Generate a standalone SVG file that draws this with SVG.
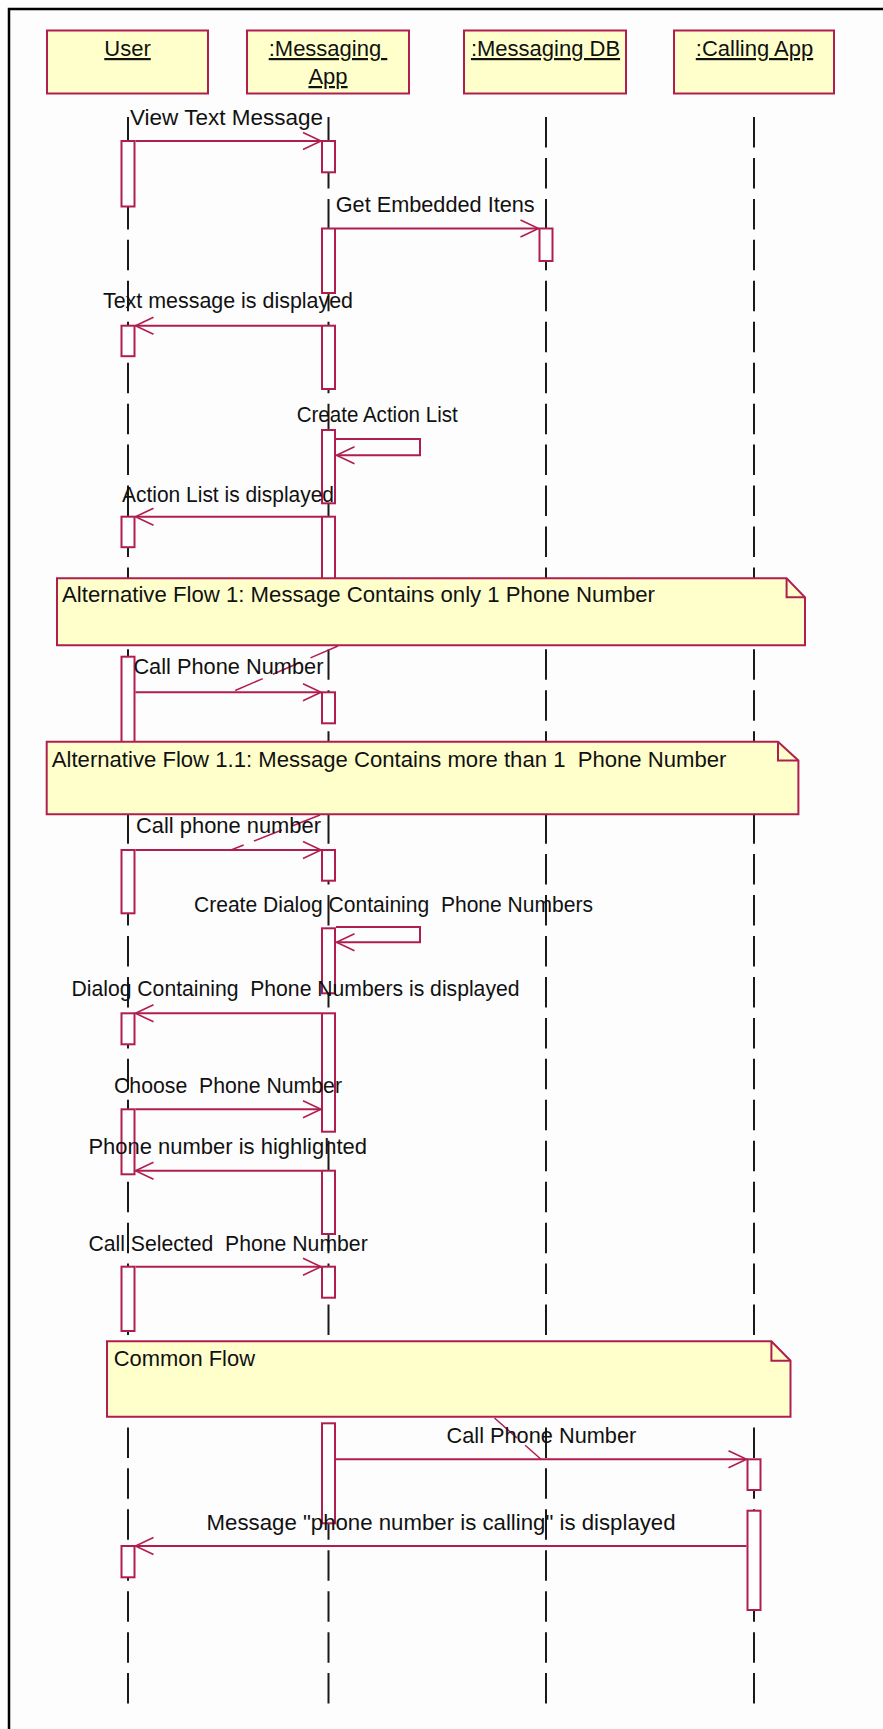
<svg xmlns="http://www.w3.org/2000/svg" width="883" height="1729" viewBox="0 0 883 1729">
<style>
text{font-family:"Liberation Sans",Arial,sans-serif;font-size:22px;fill:#111}
.hd{text-anchor:middle;text-decoration:underline}
.obj{fill:#ffffcc;stroke:#b01e4f;stroke-width:2}
.act{fill:#ffffff;stroke:#b01e4f;stroke-width:2}
.life{stroke:#1a1a1a;stroke-width:2;stroke-dasharray:30.5 10.45;fill:none}
.msg{stroke:#b01e4f;stroke-width:2;fill:none;marker-end:url(#ah)}
.anchor{stroke:#b01e4f;stroke-width:1.5;stroke-dasharray:30 11;fill:none}
.note{fill:#ffffcc;stroke:#b01e4f;stroke-width:2}
.fold{fill:none;stroke:#b01e4f;stroke-width:2}
</style>
<defs>
<marker id="ah" markerUnits="userSpaceOnUse" viewBox="-20 -10 22 20" refX="0" refY="0" markerWidth="22" markerHeight="20" orient="auto" overflow="visible">
<path d="M-18,-8.5 L0,0 L-18,8.5" fill="none" stroke="#b01e4f" stroke-width="1.6"/>
</marker>
</defs>
<rect x="0" y="0" width="883" height="1729" fill="#fdfdfd"/>
<rect x="9" y="9" width="900" height="1760" fill="none" stroke="#000" stroke-width="2.5"/>

<g id="lifelines">
<line class="life" x1="128" y1="117" x2="128" y2="1706"/>
<line class="life" x1="328.5" y1="117" x2="328.5" y2="1706"/>
<line class="life" x1="546" y1="117" x2="546" y2="1706"/>
<line class="life" x1="754" y1="117" x2="754" y2="1706"/>
</g>

<g id="node-user">
<rect class="obj" x="47" y="30.5" width="161" height="63"/>
<text class="hd" x="127.5" y="56">User</text>
</g>
<g id="node-messaging-app">
<rect class="obj" x="247" y="30.5" width="162" height="63"/>
<text class="hd" x="328" y="56">:Messaging&#160;</text>
<text class="hd" x="328" y="84">App</text>
</g>
<g id="node-messaging-db">
<rect class="obj" x="464" y="30.5" width="162" height="63"/>
<text class="hd" x="545.5" y="56">:Messaging DB</text>
</g>
<g id="node-calling-app">
<rect class="obj" x="674" y="30.5" width="160" height="63"/>
<text class="hd" x="754.5" y="56">:Calling App</text>
</g>

<g id="activations">
<rect class="act" x="121.5" y="141" width="13" height="65.5"/>
<rect class="act" x="121.5" y="325.7" width="13" height="30.5"/>
<rect class="act" x="121.5" y="516.7" width="13" height="30.5"/>
<rect class="act" x="121.5" y="656.7" width="13" height="110"/>
<rect class="act" x="121.5" y="850" width="13" height="63.3"/>
<rect class="act" x="121.5" y="1013.3" width="13" height="31"/>
<rect class="act" x="121.5" y="1109.3" width="13" height="65"/>
<rect class="act" x="121.5" y="1266.7" width="13" height="64.3"/>
<rect class="act" x="121.5" y="1546" width="13" height="31.3"/>

<rect class="act" x="322" y="141" width="13" height="31.3"/>
<rect class="act" x="322" y="228.5" width="13" height="64.5"/>
<rect class="act" x="322" y="325.7" width="13" height="63.3"/>
<rect class="act" x="322" y="430" width="13" height="73.3"/>
<rect class="act" x="322" y="516.7" width="13" height="80"/>
<rect class="act" x="322" y="692.3" width="13" height="31"/>
<rect class="act" x="322" y="850" width="13" height="30.7"/>
<rect class="act" x="322" y="928.3" width="13" height="65"/>
<rect class="act" x="322" y="1013.3" width="13" height="118.4"/>
<rect class="act" x="322" y="1170.7" width="13" height="63.3"/>
<rect class="act" x="322" y="1266.7" width="13" height="31"/>
<rect class="act" x="322" y="1423.3" width="13" height="100"/>

<rect class="act" x="539.5" y="228.5" width="13" height="32.5"/>

<rect class="act" x="747.5" y="1459.3" width="13" height="30.7"/>
<rect class="act" x="747.5" y="1510.7" width="13" height="99.3"/>
</g>

<g id="connectors">
<line class="msg" x1="135.5" y1="141" x2="321" y2="141"/>
<line class="msg" x1="336" y1="228.5" x2="538.5" y2="228.5"/>
<line class="msg" x1="321" y1="325.7" x2="135.5" y2="325.7"/>
<path class="msg" d="M336,439 H420 V455.3 H336.5"/>
<line class="msg" x1="321" y1="516.7" x2="135.5" y2="516.7"/>
<line class="msg" x1="135.5" y1="692.3" x2="321" y2="692.3"/>
<line class="msg" x1="135.5" y1="850" x2="321" y2="850"/>
<path class="msg" d="M336,927 H420 V942.3 H336.5"/>
<line class="msg" x1="321" y1="1013.3" x2="135.5" y2="1013.3"/>
<line class="msg" x1="135.5" y1="1109.3" x2="321" y2="1109.3"/>
<line class="msg" x1="321" y1="1170.7" x2="135.5" y2="1170.7"/>
<line class="msg" x1="135.5" y1="1266.7" x2="321" y2="1266.7"/>
<line class="msg" x1="336" y1="1459.3" x2="746.5" y2="1459.3"/>
<line class="msg" x1="746.5" y1="1546" x2="135.5" y2="1546"/>

<line class="anchor" x1="338" y1="646" x2="231" y2="692.3"/>
<line class="anchor" x1="320" y1="815" x2="231" y2="850"/>
<line class="anchor" x1="494.5" y1="1418" x2="541" y2="1459.3"/>
</g>

<g id="labels">
<text x="130" y="125" textLength="193" lengthAdjust="spacingAndGlyphs">View Text Message</text>
<text x="335.7" y="212" textLength="199" lengthAdjust="spacingAndGlyphs">Get Embedded Itens</text>
<text x="103" y="308" textLength="250" lengthAdjust="spacingAndGlyphs">Text message is displayed</text>
<text x="296.7" y="422" textLength="161" lengthAdjust="spacingAndGlyphs">Create Action List</text>
<text x="122" y="502" textLength="212" lengthAdjust="spacingAndGlyphs">Action List is displayed</text>
<text x="133.4" y="674" textLength="190" lengthAdjust="spacingAndGlyphs">Call Phone Number</text>
<text x="136" y="833" textLength="185" lengthAdjust="spacingAndGlyphs">Call phone number</text>
<text x="194" y="912.3" textLength="399" lengthAdjust="spacingAndGlyphs">Create Dialog Containing&#160; Phone Numbers</text>
<text x="71.5" y="996" textLength="448" lengthAdjust="spacingAndGlyphs">Dialog Containing&#160; Phone Numbers is displayed</text>
<text x="114" y="1093.3" textLength="228" lengthAdjust="spacingAndGlyphs">Choose&#160; Phone Number</text>
<text x="88.4" y="1154.3" textLength="278.6" lengthAdjust="spacingAndGlyphs">Phone number is highlighted</text>
<text x="88.4" y="1251" textLength="279.3" lengthAdjust="spacingAndGlyphs">Call Selected&#160; Phone Number</text>
<text x="446.5" y="1442.7" textLength="189.8" lengthAdjust="spacingAndGlyphs">Call Phone Number</text>
<text x="206.6" y="1530" textLength="469" lengthAdjust="spacingAndGlyphs">Message "phone number is calling" is displayed</text>
</g>

<g id="note-alt-flow-1">
<path class="note" d="M57,578.3 H786.6 L805,597.3 V645.3 H57 Z"/>
<path class="fold" d="M786.6,578.3 V597.3 H805"/>
<text x="62" y="602" textLength="593" lengthAdjust="spacingAndGlyphs">Alternative Flow 1: Message Contains only 1 Phone Number</text>
</g>
<g id="note-alt-flow-1-1">
<path class="note" d="M46.7,741.7 H778 L798.4,760.5 V814.3 H46.7 Z"/>
<path class="fold" d="M778,741.7 V760.5 H798.4"/>
<text x="51.8" y="767" textLength="674.6" lengthAdjust="spacingAndGlyphs">Alternative Flow 1.1: Message Contains more than 1&#160; Phone Number</text>
</g>
<g id="note-common-flow">
<path class="note" d="M107,1341.3 H771.4 L790.5,1360.7 V1416.7 H107 Z"/>
<path class="fold" d="M771.4,1341.3 V1360.7 H790.5"/>
<text x="113.7" y="1366" textLength="141.3" lengthAdjust="spacingAndGlyphs">Common Flow</text>
</g>
</svg>
